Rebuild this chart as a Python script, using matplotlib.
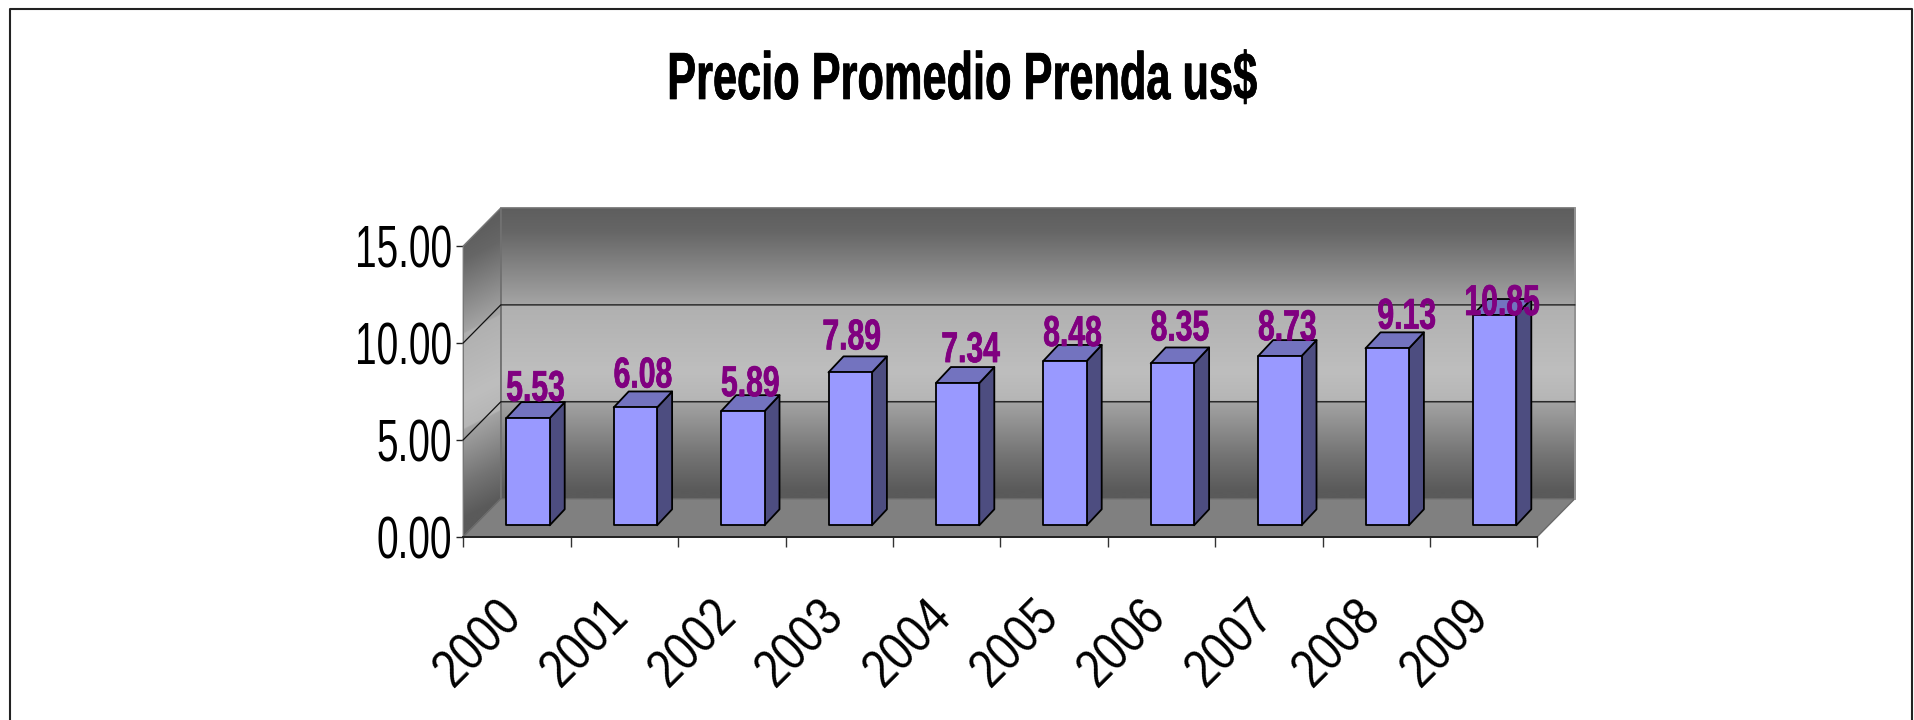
import os
import tempfile
import numpy as np
import matplotlib
matplotlib.use("Agg")
import matplotlib.pyplot as plt
import matplotlib.patheffects as pe
from matplotlib import font_manager as fm
from matplotlib.patches import Polygon, Rectangle
from matplotlib.ticker import FormatStrFormatter, FixedLocator, FixedFormatter
from matplotlib.transforms import ScaledTranslation
from fontTools.ttLib import TTFont

years = ["2000", "2001", "2002", "2003", "2004", "2005", "2006", "2007", "2008", "2009"]
precio = [5.53, 6.08, 5.89, 7.89, 7.34, 8.48, 8.35, 8.73, 9.13, 10.85]
title = "Precio Promedio Prenda us$"
yticks = [0, 5, 10, 15]
label_dx = [0, 0, 0, -6, 5.5, 0, 0, 0, 12, 0]
label_dy = [1.3, 4, -1, 7, 5, -1, 7, 0, 3.7, -16]

BASE = "/usr/share/fonts/truetype/liberation/LiberationSans-%s.ttf"
tmp = tempfile.mkdtemp()


def squeezed(style, s):
    """Register a horizontally scaled copy of Liberation Sans, return its family name."""
    family = f"Liberation Squeezed {int(s * 100)}"
    f = TTFont(BASE % style)
    glyf = f["glyf"]
    for name in glyf.keys():
        g = glyf[name]
        if g.isComposite():
            for c in g.components:
                c.x = int(round(c.x * s))
        elif g.numberOfContours > 0:
            g.coordinates.scale((s, 1))
            g.coordinates.toInt()
            g.recalcBounds(glyf)
        adv, lsb = f["hmtx"][name]
        f["hmtx"][name] = (int(round(adv * s)), int(round(lsb * s)))
    for tag in ("kern", "GPOS", "GSUB", "GDEF", "fpgm", "prep", "cvt ", "hdmx", "VDMX", "LTSH"):
        if tag in f:
            del f[tag]
    for rec in f["name"].names:
        if rec.nameID in (1, 16):
            rec.string = family
        elif rec.nameID in (4, 6):
            rec.string = family.replace(" ", "") + style
    dst = os.path.join(tmp, f"{style}{int(s * 100)}.ttf")
    f.save(dst)
    fm.fontManager.addfont(dst)
    return family


F_YTICK = squeezed("Regular", 0.65)
F_XTICK = squeezed("Regular", 0.85)
F_TITLE = squeezed("Bold", 0.65)
F_VALUE = squeezed("Bold", 0.70)

W, H = 1914, 720
fig = plt.figure(figsize=(W / 100, H / 100), dpi=100, facecolor="white")
L, R, T, B = 463.3, 1537.3, 246.0, 536.7
ax = fig.add_axes([L / W, 1 - B / H, (R - L) / W, (B - T) / H])
ax.patch.set_visible(False)
ax.set_xlim(-0.5, 9.5)
ax.set_ylim(0, 15)
for s in ("top", "right", "left"):
    ax.spines[s].set_visible(False)
ax.spines["bottom"].set_color("#222222")
ax.spines["bottom"].set_linewidth(1.4)
ax.spines["bottom"].set_zorder(8)

pxx = 10 / (R - L)
pxy = 15 / (B - T)
DX, DY = 37.5 * pxx, 38 * pxy
x0, x1, y1 = -0.5, 9.5, 15

stops_f = [0.0, 0.08, 0.33, 0.335, 0.56, 0.66, 0.665, 0.85, 0.97, 1.0]
stops_v = [0x5e, 0x66, 0xa4, 0xb0, 0xbe, 0xb6, 0xa4, 0x74, 0x5a, 0x5a]


def gray(v):
    a = np.clip(v, 0, 255) / 255.0
    return np.dstack([a, a, a])


# back wall
f = np.linspace(0, 1, 600)[:, None]
ax.imshow(gray(np.interp(f, stops_f, stops_v)), extent=(x0 + DX, x1 + DX, DY, y1 + DY),
          aspect="auto", interpolation="bilinear", zorder=1, clip_on=False)
# side wall
rows = np.linspace(y1 + DY, 0, 400)
us = np.linspace(0, 1, 40)
side = np.array([[np.interp((y1 + DY - r - DY * (1 - 0.5 * u - 0.25)) / 15, stops_f, stops_v) for u in us] for r in rows])
side_im = ax.imshow(gray(side), extent=(x0, x0 + DX, 0, y1 + DY), aspect="auto",
                    interpolation="bilinear", zorder=1)
side_poly = Polygon([(x0, 0), (x0, y1), (x0 + DX, y1 + DY), (x0 + DX, DY)], closed=True,
                    facecolor="none", edgecolor="#777777", lw=1.0, zorder=2, clip_on=False)
ax.add_patch(side_poly)
side_im.set_clip_box(fig.bbox)
side_im.set_clip_path(side_poly)
ax.set_xlim(-0.5, 9.5)
ax.set_ylim(0, 15)

# back wall outline and floor
ax.add_patch(Rectangle((x0 + DX, DY), x1 - x0, y1, fill=False, edgecolor="#707070", lw=1.2, zorder=2, clip_on=False))
ax.add_patch(Polygon([(x0, 0), (x1, 0), (x1 + DX, DY), (x0 + DX, DY)], closed=True, facecolor="#808080",
                     edgecolor="#6a6a6a", lw=1.0, zorder=3, clip_on=False))
ax.plot([x1 + DX, x1 + DX], [DY, y1 + DY], color="#999999", lw=1.2, zorder=3, clip_on=False)

# gridlines
for v in yticks[1:3]:
    ax.plot([x0, x0 + DX, x1 + DX], [v, v + DY, v + DY], color="#111111", lw=0.9, zorder=3, clip_on=False)

# bars
BW = 43.4 * pxx
OX, OY = 11 * pxx, 11.4 * pxy
ZX, ZY = 15 * pxx, 16 * pxy
ec = dict(edgecolor="black", lw=1.3, clip_on=False, joinstyle="round")
for i, v in enumerate(precio):
    l, r, b, t = i + OX - BW / 2, i + OX + BW / 2, OY, OY + v
    ax.add_patch(Polygon([(r, b), (r, t), (r + ZX, t + ZY), (r + ZX, b + ZY)], closed=True, facecolor="#4d4d80", zorder=4, **ec))
    ax.add_patch(Polygon([(l, t), (r, t), (r + ZX, t + ZY), (l + ZX, t + ZY)], closed=True, facecolor="#7373bf", zorder=4, **ec))
    ax.add_patch(Rectangle((l, b), BW, v, facecolor="#9999ff", zorder=5, **ec))
    ax.annotate(f"{v:.2f}", (i + OX + ZX / 2, t + ZY), xytext=(label_dx[i] * 0.72, label_dy[i] * 0.72),
                textcoords="offset points", ha="center", va="baseline", fontsize=31, fontweight="bold",
                family=[F_VALUE, "Liberation Sans"], color="#800080", zorder=6, annotation_clip=False,
                path_effects=[pe.withStroke(linewidth=0.5, foreground="#800080")])

# axes ticks and labels
ax.yaxis.set_major_locator(FixedLocator(yticks))
ax.yaxis.set_major_formatter(FormatStrFormatter("%.2f"))
ax.tick_params(axis="y", length=5, width=1.0, color="#222222", labelsize=43, pad=3, labelcolor="black")
for t in ax.get_yticklabels():
    t.set_family([F_YTICK, "Liberation Sans"])
ax.xaxis.set_major_locator(FixedLocator(np.arange(-0.5, 10, 1)))
ax.xaxis.set_major_formatter(FixedFormatter([""] * 11))
ax.tick_params(axis="x", which="major", length=7, width=1.0, color="#333333")
ax.xaxis.set_minor_locator(FixedLocator(np.arange(10)))
ax.xaxis.set_minor_formatter(FixedFormatter(years))
ax.tick_params(axis="x", which="minor", length=0, labelsize=38, pad=46)
shift = ScaledTranslation(-3 / 100, -8 / 100, fig.dpi_scale_trans)
for tick in ax.xaxis.get_minor_ticks():
    t = tick.label1
    t.set_family([F_XTICK, "Liberation Sans"])
    t.set_rotation(45)
    t.set_ha("right")
    t.set_va("center")
    t.set_rotation_mode("anchor")
    t.set_transform(t.get_transform() + shift)

ax.set_zorder(1)
fig.text(962 / W, 1 - 82 / H, title, ha="center", va="center", fontsize=48, fontweight="bold",
         family=[F_TITLE, "Liberation Sans"], color="black",
         path_effects=[pe.withStroke(linewidth=0.5, foreground="black")])

# outer frame
fig.add_artist(plt.Line2D([10 / W, 10 / W, 1912 / W, 1912 / W], [0, 1 - 9 / H, 1 - 9 / H, 0], color="#222222", lw=1.5,
                          transform=fig.transFigure))
fig.savefig("out.png", dpi=100, facecolor="white")
